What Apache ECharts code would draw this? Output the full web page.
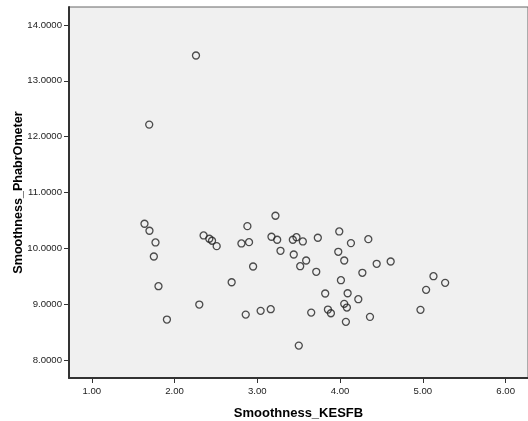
<!DOCTYPE html>
<html>
<head>
<meta charset="utf-8">
<script src="https://cdn.jsdelivr.net/npm/echarts@6/dist/echarts.min.js"></script>
<style>
  html, body { margin: 0; padding: 0; background: #fff; }
  #main { width: 528px; height: 421px; }
</style>
</head>
<body>
<div id="main"></div>
<script>
// 数据（从图上读出的散点）
var kesfb = [1.637, 1.697, 1.770, 1.750, 1.806, 1.908, 2.299, 2.351, 2.420, 2.453,
             2.509, 2.690, 2.808, 2.900, 2.880, 2.860, 2.949, 3.040, 3.162, 3.171,
             3.240, 3.219, 3.280, 3.429, 3.473, 3.550, 3.440, 3.590, 3.518, 3.731,
             3.712, 3.990, 3.978, 4.050, 4.131, 4.341, 4.010, 4.269, 4.442, 4.611,
             3.820, 4.091, 4.220, 4.050, 4.082, 3.853, 3.889, 3.651, 4.070, 4.361,
             5.128, 5.269, 5.039, 4.971, 3.501, 1.694, 2.259];
var phabr = [10.441, 10.315, 10.106, 9.855, 9.323, 8.726, 8.995, 10.231, 10.172, 10.136,
             10.040, 9.394, 10.088, 10.111, 10.398, 8.815, 9.676, 8.882, 8.911, 10.208,
             10.154, 10.584, 9.957, 10.154, 10.200, 10.124, 9.890, 9.783, 9.681, 10.190,
             9.581, 10.303, 9.939, 9.783, 10.094, 10.165, 9.430, 9.563, 9.724, 9.765,
             9.192, 9.197, 9.090, 9.007, 8.941, 8.905, 8.839, 8.851, 8.685, 8.774,
             9.502, 9.383, 9.258, 8.900, 8.260, 12.215, 13.452];
// 刻度
var xTicks = [1, 2, 3, 4, 5, 6];
var yTicks = [8, 9, 10, 11, 12, 13, 14];

var points = [];
for (var i = 0; i < kesfb.length; i++) {
    points.push([kesfb[i], phabr[i]]);
}

var chart = echarts.init(document.getElementById('main'));
var option = {
    animation: false,
    grid: {
        left: 69,
        right: 0,
        top: 7,
        bottom: 43,
        outerBoundsMode: 'none',
        show: true,
        backgroundColor: '#f0f0f0',
        borderColor: '#666',
        borderWidth: 1
    },
    xAxis: {
        type: 'value',
        min: 0.725,
        max: 6.27,
        name: 'Smoothness_KESFB',
        nameLocation: 'middle',
        nameGap: 29,
        nameMoveOverlap: false,
        nameTextStyle: { fontFamily: 'Liberation Sans', fontSize: 13, fontWeight: 'bold', color: '#000' },
        axisLine: { onZero: false, lineStyle: { color: '#333', width: 2 } },
        axisTick: { customValues: xTicks, length: 5, lineStyle: { color: '#333' } },
        axisLabel: {
            customValues: xTicks,
            margin: 8,
            fontFamily: 'Liberation Sans',
            fontSize: 9.6,
            color: '#222',
            formatter: function (v) { return v.toFixed(2); }
        },
        splitLine: { show: false }
    },
    yAxis: {
        type: 'value',
        min: 7.68,
        max: 14.32,
        name: 'Smoothness_PhabrOmeter',
        nameLocation: 'middle',
        nameGap: 44,
        nameMoveOverlap: false,
        nameTextStyle: { fontFamily: 'Liberation Sans', fontSize: 12.6, fontWeight: 'bold', color: '#000' },
        axisLine: { onZero: false, lineStyle: { color: '#333', width: 2 } },
        axisTick: { customValues: yTicks, length: 5, lineStyle: { color: '#333' } },
        axisLabel: {
            customValues: yTicks,
            margin: 7,
            fontFamily: 'Liberation Sans',
            fontSize: 9.6,
            color: '#222',
            formatter: function (v) { return v.toFixed(4); }
        },
        splitLine: { show: false }
    },
    series: [{
        type: 'scatter',
        data: points,
        symbol: 'circle',
        symbolSize: 7,
        itemStyle: {
            color: 'rgba(0,0,0,0)',
            borderColor: '#222',
            borderWidth: 1.3
        }
    }]
};
chart.setOption(option);
</script>
</body>
</html>
